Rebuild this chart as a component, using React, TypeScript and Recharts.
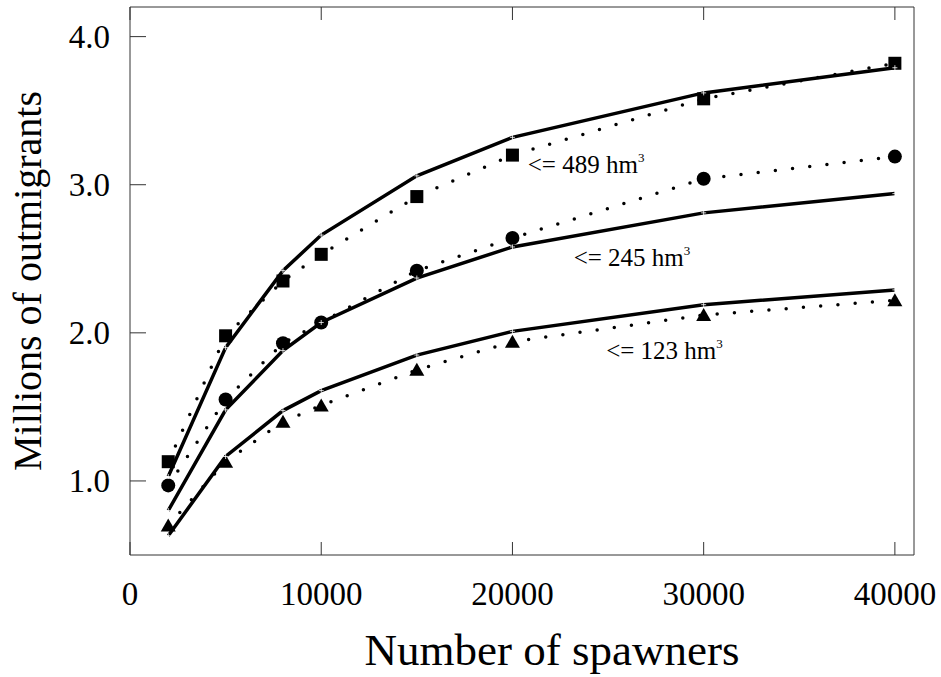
import React from "react"
import { LineChart, Line, XAxis, YAxis, ReferenceDot } from "recharts"

// number of spawners (x values)
const spawners = [2000, 5000, 8000, 10000, 15000, 20000, 30000, 40000]

// observed points (dotted lines with markers)
const obs489 = [1.13, 1.98, 2.35, 2.53, 2.92, 3.2, 3.58, 3.82]
const obs245 = [0.97, 1.55, 1.93, 2.07, 2.42, 2.64, 3.04, 3.19]
const obs123 = [0.7, 1.13, 1.4, 1.51, 1.75, 1.94, 2.12, 2.22]

// fitted curves (solid lines)
const fit489 = [1.03, 1.9, 2.42, 2.66, 3.06, 3.32, 3.62, 3.79]
const fit245 = [0.8, 1.48, 1.88, 2.07, 2.37, 2.58, 2.81, 2.94]
const fit123 = [0.63, 1.165, 1.475, 1.61, 1.85, 2.01, 2.19, 2.29]

const xTicks = [0, 10000, 20000, 30000, 40000]
const yTicks = [1, 2, 3, 4]

// curve labels: [text, x, y] in data units
const curveLabels: [string, number, number][] = [
  ["<= 489 hm", 20800, 3.077],
  ["<= 245 hm", 23200, 2.451],
  ["<= 123 hm", 24900, 1.825],
]

const FONT = "'Liberation Serif', 'Times New Roman', serif"
const INK = "#000"
const AXIS = "#333"

const data = spawners.map((s, i) => ({
  spawners: s,
  obs489: obs489[i],
  obs245: obs245[i],
  obs123: obs123[i],
  fit489: fit489[i],
  fit245: fit245[i],
  fit123: fit123[i],
}))

const SquareDot = (props: any) => {
  const { cx, cy } = props
  if (cx == null || cy == null) return null
  return <rect x={cx - 6.5} y={cy - 6.5} width={13} height={13} fill={INK} />
}

const CircleDot = (props: any) => {
  const { cx, cy } = props
  if (cx == null || cy == null) return null
  return <circle cx={cx} cy={cy} r={7} fill={INK} />
}

const TriangleDot = (props: any) => {
  const { cx, cy } = props
  if (cx == null || cy == null) return null
  return <path d={`M${cx},${cy - 7} L${cx + 7.5},${cy + 6} L${cx - 7.5},${cy + 6} Z`} fill={INK} />
}

// tiny cross on the fitted curves
const TinyMark = (props: any) => {
  const { cx, cy } = props
  if (cx == null || cy == null) return null
  return (
    <path
      d={`M${cx - 2.5},${cy} L${cx + 2.5},${cy} M${cx},${cy - 2.5} L${cx},${cy + 2.5}`}
      stroke="#fff"
      strokeWidth={0.8}
    />
  )
}

const BottomTick = (props: any) => {
  const { x, y, payload } = props
  return (
    <g>
      <line x1={x} x2={x} y1={y} y2={y - 13} stroke={AXIS} strokeWidth={1} />
      <text x={x} y={y + 50} textAnchor="middle" fontFamily={FONT} fontSize={33} fill={INK}>
        {payload.value}
      </text>
    </g>
  )
}

const TopTick = (props: any) => {
  const { x, y } = props
  return <line x1={x} x2={x} y1={y} y2={y + 13} stroke={AXIS} strokeWidth={1} />
}

const LeftTick = (props: any) => {
  const { x, y, payload } = props
  return (
    <g>
      <line x1={x} x2={x + 16} y1={y} y2={y} stroke={AXIS} strokeWidth={1} />
      <text x={x - 20} y={y + 11} textAnchor="end" fontFamily={FONT} fontSize={33} fill={INK}>
        {Number(payload.value).toFixed(1)}
      </text>
    </g>
  )
}

const RightTick = (props: any) => {
  const { x, y } = props
  return <line x1={x} x2={x - 16} y1={y} y2={y} stroke={AXIS} strokeWidth={1} />
}

const XTitle = (props: any) => {
  const { viewBox } = props
  const cx = viewBox.x + viewBox.width / 2 + 30
  return (
    <text x={cx} y={viewBox.y + 110} textAnchor="middle" fontFamily={FONT} fontSize={45} fill={INK}>
      Number of spawners
    </text>
  )
}

const YTitle = (props: any) => {
  const { viewBox } = props
  const x = 41
  const y = viewBox.y + viewBox.height / 2
  return (
    <text
      x={x}
      y={y}
      transform={`rotate(-90 ${x} ${y})`}
      textAnchor="middle"
      fontFamily={FONT}
      fontSize={40}
      fill={INK}
    >
      Millions of outmigrants
    </text>
  )
}

const CurveLabel = (text: string) => (props: any) => {
  const { cx, cy } = props
  return (
    <text x={cx} y={cy} fontFamily={FONT} fontSize={25} fill={INK}>
      {text}
      <tspan fontSize={13} dy={-11}>
        3
      </tspan>
    </text>
  )
}

const dotted = { strokeDasharray: "0 17.3", strokeLinecap: "round" as const, strokeWidth: 3.5 }

export default function App() {
  return (
    <div style={{ position: "absolute", left: 0, top: 0, background: "#fff" }}>
      <LineChart width={941} height={677} data={data} margin={{ top: 0, right: 0, bottom: 0, left: 0 }}>
        <XAxis
          dataKey="spawners"
          type="number"
          domain={[0, 41000]}
          ticks={xTicks}
          height={122}
          tickSize={0}
          tickMargin={0}
          tickLine={false}
          axisLine={{ stroke: AXIS, strokeWidth: 1 }}
          tick={BottomTick}
          interval={0}
          label={{ content: XTitle }}
        />
        <XAxis
          xAxisId="top"
          orientation="top"
          dataKey="spawners"
          type="number"
          domain={[0, 41000]}
          ticks={xTicks}
          height={7}
          tickSize={0}
          tickMargin={0}
          tickLine={false}
          axisLine={{ stroke: AXIS, strokeWidth: 1 }}
          tick={TopTick}
          interval={0}
        />
        <YAxis
          type="number"
          domain={[0.5, 4.2]}
          ticks={yTicks}
          width={130}
          tickSize={0}
          tickMargin={0}
          tickLine={false}
          axisLine={{ stroke: AXIS, strokeWidth: 1 }}
          tick={LeftTick}
          interval={0}
          label={{ content: YTitle }}
        />
        <YAxis
          yAxisId="right"
          orientation="right"
          type="number"
          domain={[0.5, 4.2]}
          ticks={yTicks}
          width={27}
          tickSize={0}
          tickMargin={0}
          tickLine={false}
          axisLine={{ stroke: AXIS, strokeWidth: 1 }}
          tick={RightTick}
          interval={0}
        />

        <Line dataKey="obs489" stroke={INK} {...dotted} dot={<SquareDot />} activeDot={false} isAnimationActive={false} />
        <Line dataKey="obs245" stroke={INK} {...dotted} dot={<CircleDot />} activeDot={false} isAnimationActive={false} />
        <Line dataKey="obs123" stroke={INK} {...dotted} dot={<TriangleDot />} activeDot={false} isAnimationActive={false} />

        <Line dataKey="fit489" stroke={INK} strokeWidth={3.5} dot={<TinyMark />} activeDot={false} isAnimationActive={false} />
        <Line dataKey="fit245" stroke={INK} strokeWidth={3.5} dot={<TinyMark />} activeDot={false} isAnimationActive={false} />
        <Line dataKey="fit123" stroke={INK} strokeWidth={3.5} dot={<TinyMark />} activeDot={false} isAnimationActive={false} />

        {curveLabels.map(([text, x, y]) => (
          <ReferenceDot key={text} x={x} y={y} r={0} shape={CurveLabel(text)} />
        ))}
      </LineChart>
    </div>
  )
}
